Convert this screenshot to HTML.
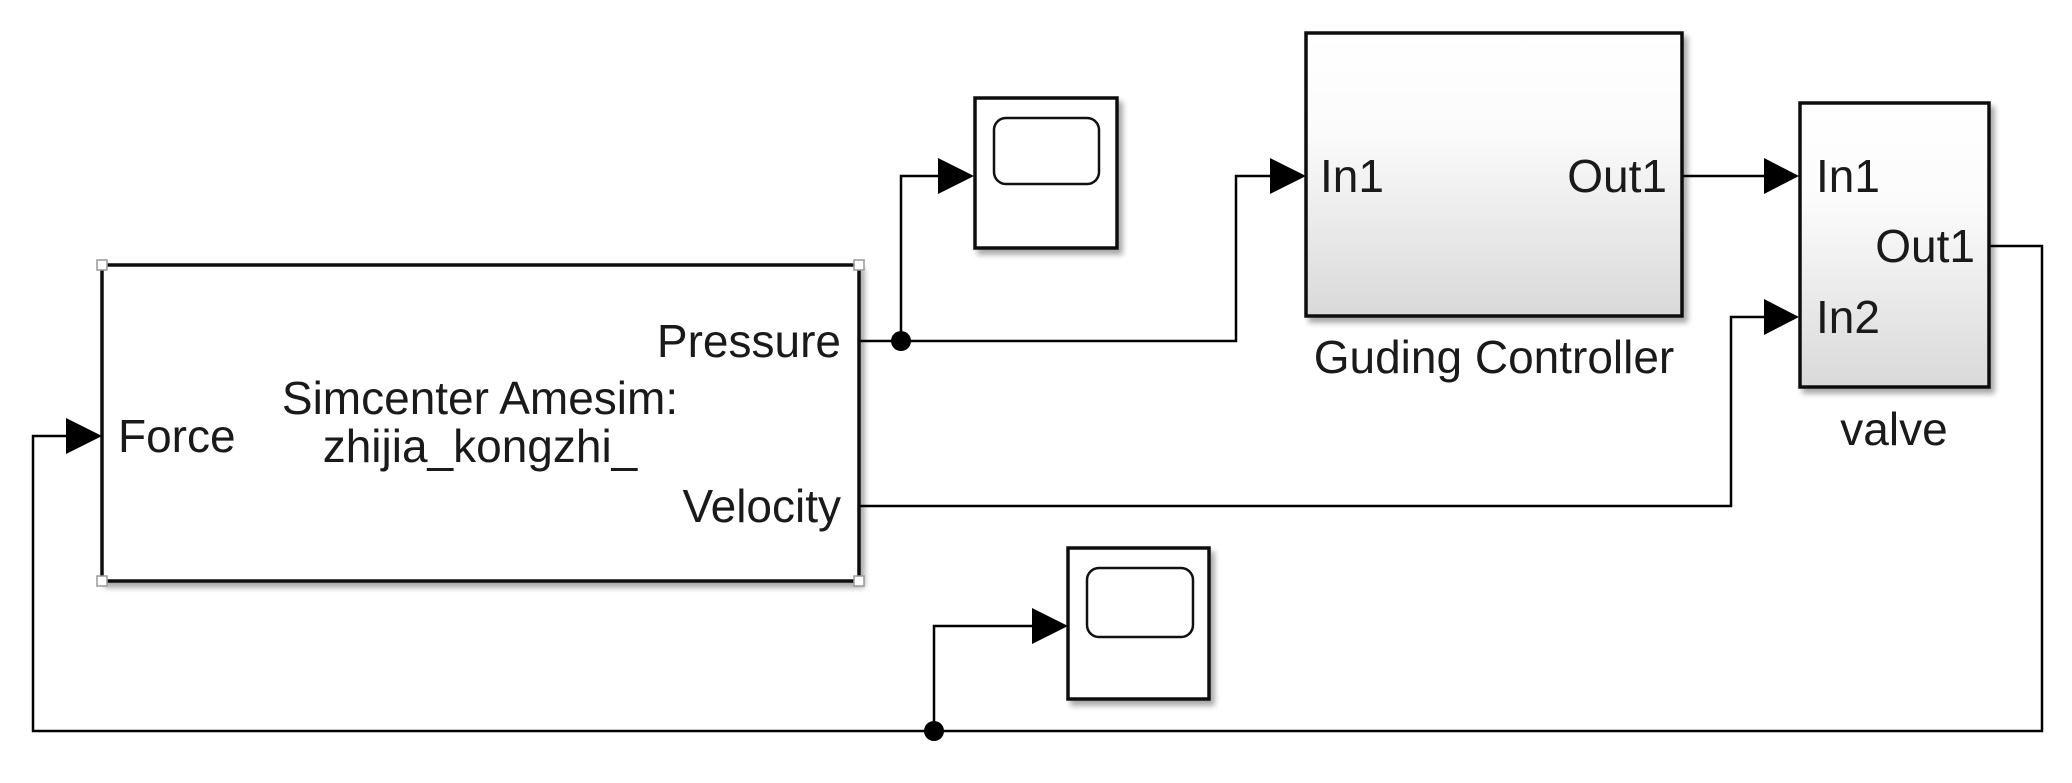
<!DOCTYPE html>
<html><head><meta charset="utf-8"><style>
html,body{margin:0;padding:0;background:#fff;}
svg{display:block;}
text{font-family:"Liberation Sans",Arial,sans-serif;fill:#1a1a1a;}
</style></head><body>
<svg width="2072" height="783" viewBox="0 0 2072 783" xmlns="http://www.w3.org/2000/svg">
<defs>
<linearGradient id="g" x1="0" y1="0" x2="0" y2="1">
<stop offset="0" stop-color="#ffffff"/><stop offset="0.35" stop-color="#fbfbfb"/><stop offset="1" stop-color="#d9d9d9"/>
</linearGradient>
<filter id="sh" x="-10%" y="-10%" width="130%" height="130%">
<feGaussianBlur in="SourceAlpha" stdDeviation="3"/><feOffset dx="4" dy="5"/>
<feComponentTransfer><feFuncA type="linear" slope="0.35"/></feComponentTransfer>
<feMerge><feMergeNode/><feMergeNode in="SourceGraphic"/></feMerge>
</filter>
</defs>
<g fill="none" stroke="#000" stroke-width="2.5">
<polyline points="860,341 1236,341 1236,176 1275,176"/>
<polyline points="901,341 901,176 944,176"/>
<polyline points="1683,176 1768,176"/>
<polyline points="860,506 1731,506 1731,317 1768,317"/>
<polyline points="1990,246 2042,246 2042,731 33,731 33,436 68,436"/>
<polyline points="934,731 934,626 1035,626"/>
</g>
<g fill="#000">
<circle cx="901" cy="341" r="10"/>
<circle cx="934" cy="731" r="10"/>
<polygon points="938,158 974,176 938,194"/>
<polygon points="1270,158 1306,176 1270,194"/>
<polygon points="1764,158 1799,176 1764,194"/>
<polygon points="1764,299 1799,317 1764,335"/>
<polygon points="66,418 102,436 66,454"/>
<polygon points="1032,608 1068,626 1032,644"/>
</g>
<rect x="102" y="265" width="757" height="316" fill="#fff" stroke="#111" stroke-width="3.5" filter="url(#sh)"/>
<g fill="#fff" stroke="#999" stroke-width="1.5">
<rect x="97" y="260" width="10" height="10"/><rect x="854" y="260" width="10" height="10"/>
<rect x="97" y="576" width="10" height="10"/><rect x="854" y="576" width="10" height="10"/>
</g>
<rect x="975" y="98" width="142" height="150" fill="#fff" stroke="#111" stroke-width="3.5" filter="url(#sh)"/>
<rect x="994" y="118" width="105" height="66" rx="12" fill="#fff" stroke="#111" stroke-width="2.5"/>
<rect x="1068" y="548" width="141" height="151" fill="#fff" stroke="#111" stroke-width="3.5" filter="url(#sh)"/>
<rect x="1087" y="568" width="106" height="69" rx="12" fill="#fff" stroke="#111" stroke-width="2.5"/>
<rect x="1306" y="33" width="376" height="283" fill="url(#g)" stroke="#111" stroke-width="3.5" filter="url(#sh)"/>
<rect x="1800" y="103" width="189" height="284" fill="url(#g)" stroke="#111" stroke-width="3.5" filter="url(#sh)"/>
<g font-size="46">
<text x="841" y="357" text-anchor="end">Pressure</text>
<text x="841" y="522" text-anchor="end">Velocity</text>
<text x="118" y="452">Force</text>
<text x="480" y="414" text-anchor="middle">Simcenter Amesim:</text>
<text x="480" y="462" text-anchor="middle">zhijia_kongzhi_</text>
<text x="1320" y="192">In1</text>
<text x="1667" y="192" text-anchor="end">Out1</text>
<text x="1494" y="373" text-anchor="middle">Guding Controller</text>
<text x="1816" y="192">In1</text>
<text x="1975" y="262" text-anchor="end">Out1</text>
<text x="1816" y="333">In2</text>
<text x="1894" y="445" text-anchor="middle">valve</text>
</g>
</svg>
</body></html>
